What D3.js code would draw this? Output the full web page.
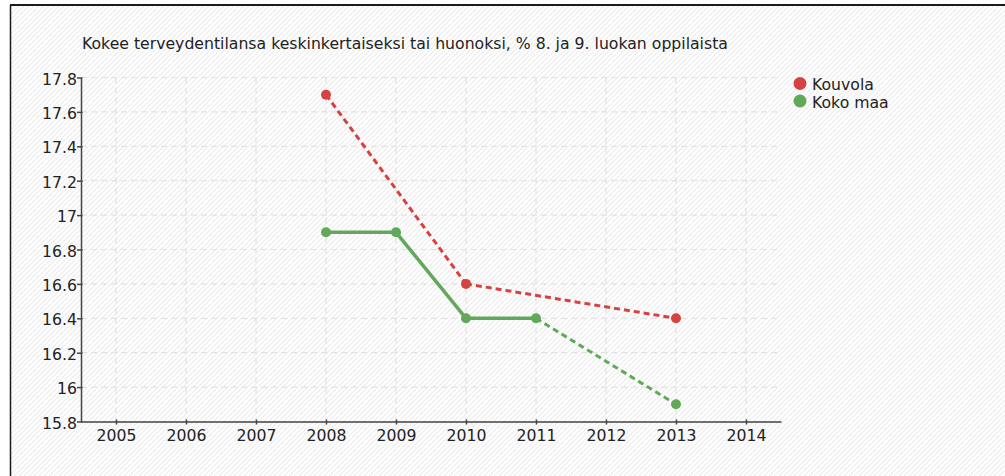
<!DOCTYPE html>
<html>
<head>
<meta charset="utf-8">
<script src="https://cdn.jsdelivr.net/npm/d3@7"></script>
<style>
  html, body { margin: 0; padding: 0; background: #fff; }
  svg { display: block; font-family: "DejaVu Sans", sans-serif; }
</style>
</head>
<body>
<div class="container"></div>
<script>
const WIDTH = 1005;
const HEIGHT = 476;
const FONT_SIZE = 15.7;

// data
var title = "Kokee terveydentilansa keskinkertaiseksi tai huonoksi, % 8. ja 9. luokan oppilaista";
var years = [2005, 2006, 2007, 2008, 2009, 2010, 2011, 2012, 2013, 2014];
var yTicks = [15.8, 16, 16.2, 16.4, 16.6, 16.8, 17, 17.2, 17.4, 17.6, 17.8];
var seriesNames = ["Kouvola", "Koko maa"];
var seriesColors = ["#d64242", "#62a85b"];
var kouvolaYears = [2008, 2010, 2013];
var kouvolaValues = [17.7, 16.6, 16.4];
var kokoMaaYears = [2008, 2009, 2010, 2011, 2013];
var kokoMaaValues = [16.9, 16.9, 16.4, 16.4, 15.9];

var series = [
    { name: seriesNames[0], color: seriesColors[0], years: kouvolaYears, values: kouvolaValues },
    { name: seriesNames[1], color: seriesColors[1], years: kokoMaaYears, values: kokoMaaValues }
];

var PLOT_LEFT = 81, PLOT_RIGHT = 781, PLOT_TOP = 77.5, PLOT_BOTTOM = 421.5;

var x = d3.scaleLinear()
    .domain([years[0] - 0.5, years[years.length - 1] + 0.5])
    .range([PLOT_LEFT, PLOT_RIGHT]);

var y = d3.scaleLinear()
    .domain([yTicks[0], yTicks[yTicks.length - 1]])
    .range([PLOT_BOTTOM, PLOT_TOP]);

var translate = function (a, b) {
    return "translate(" + a + "," + b + ")";
};

var svg = d3.select(".container").append("svg")
    .attr("width", WIDTH)
    .attr("height", HEIGHT);

// hatched background
var defs = svg.append("defs");
var pat = defs.append("pattern")
    .attr("id", "hatch")
    .attr("patternUnits", "userSpaceOnUse")
    .attr("width", 5)
    .attr("height", 5);
pat.append("rect").attr("width", 5).attr("height", 5).attr("fill", "#fff");
pat.append("path")
    .attr("d", "M-1,6 L6,-1 M-1,1 L1,-1 M4,6 L6,4")
    .attr("stroke", "#ececec")
    .attr("stroke-width", 1.2);

svg.append("rect")
    .attr("x", 10).attr("y", 5)
    .attr("width", WIDTH - 10).attr("height", HEIGHT - 5)
    .attr("fill", "url(#hatch)");

// frame
svg.append("line")
    .attr("x1", 10).attr("x2", WIDTH).attr("y1", 5).attr("y2", 5)
    .attr("stroke", "#1a1a1a").attr("stroke-width", 2);
svg.append("line")
    .attr("x1", 10.5).attr("x2", 10.5).attr("y1", 5).attr("y2", HEIGHT)
    .attr("stroke", "#1a1a1a").attr("stroke-width", 1.5);

// title
svg.append("text")
    .attr("x", 82).attr("y", 49)
    .attr("font-size", FONT_SIZE)
    .attr("fill", "#222")
    .text(title);

// grid
var grid = svg.append("g")
    .attr("stroke", "#e2e2e2")
    .attr("stroke-width", 1.2)
    .attr("stroke-dasharray", "6,4");
grid.selectAll(".hg").data(yTicks).enter().append("line")
    .attr("x1", PLOT_LEFT).attr("x2", PLOT_RIGHT)
    .attr("y1", function (d) { return y(d); })
    .attr("y2", function (d) { return y(d); });
grid.selectAll(".vg").data(years).enter().append("line")
    .attr("x1", function (d) { return x(d); })
    .attr("x2", function (d) { return x(d); })
    .attr("y1", PLOT_TOP).attr("y2", PLOT_BOTTOM);

// axes
var yAxis = svg.append("g")
    .attr("transform", translate(PLOT_LEFT, 0))
    .call(d3.axisLeft(y).tickValues(yTicks).tickSize(4).tickSizeOuter(0).tickPadding(0)
        .tickFormat(function (d) { return String(d); }));

var xAxis = svg.append("g")
    .attr("transform", translate(0, PLOT_BOTTOM))
    .call(d3.axisBottom(x).tickValues(years).tickSize(3).tickSizeOuter(0).tickPadding(5)
        .tickFormat(function (d) { return String(d); }));

[yAxis, xAxis].forEach(function (ax) {
    ax.select(".domain").attr("stroke", "#444").attr("stroke-width", 1.5);
    ax.selectAll(".tick line").attr("stroke", "#444").attr("stroke-width", 1.5);
    ax.selectAll(".tick text")
        .attr("font-family", "DejaVu Sans, sans-serif")
        .attr("font-size", FONT_SIZE)
        .attr("fill", "#222");
});
yAxis.selectAll(".tick line").attr("x1", 1.5);
yAxis.selectAll(".tick text").attr("dy", "0.42em");
xAxis.selectAll(".tick line").attr("y1", -2);

// series lines: solid between consecutive years, dashed across gaps
var line = d3.line()
    .x(function (d) { return x(d[0]); })
    .y(function (d) { return y(d[1]); });

series.forEach(function (s) {
    var g = svg.append("g");
    for (var i = 0; i < s.years.length - 1; i++) {
        var gap = s.years[i + 1] - s.years[i] > 1;
        g.append("path")
            .attr("d", line([[s.years[i], s.values[i]], [s.years[i + 1], s.values[i + 1]]]))
            .attr("fill", "none")
            .attr("stroke", s.color)
            .attr("stroke-width", gap ? 3 : 3.5)
            .attr("stroke-dasharray", gap ? "6,4" : null);
    }
    g.selectAll("circle").data(s.years).enter().append("circle")
        .attr("cx", function (d) { return x(d); })
        .attr("cy", function (d, i) { return y(s.values[i]); })
        .attr("r", 5)
        .attr("fill", s.color);
});

// legend
var legend = svg.append("g").attr("transform", translate(800, 83.5));
series.forEach(function (s, i) {
    var item = legend.append("g").attr("transform", translate(0, i * 17.5));
    item.append("circle").attr("r", 6.5).attr("fill", s.color);
    item.append("text")
        .attr("x", 12).attr("y", 6.5)
        .attr("font-size", FONT_SIZE)
        .attr("fill", "#222")
        .text(s.name);
});
</script>
</body>
</html>
